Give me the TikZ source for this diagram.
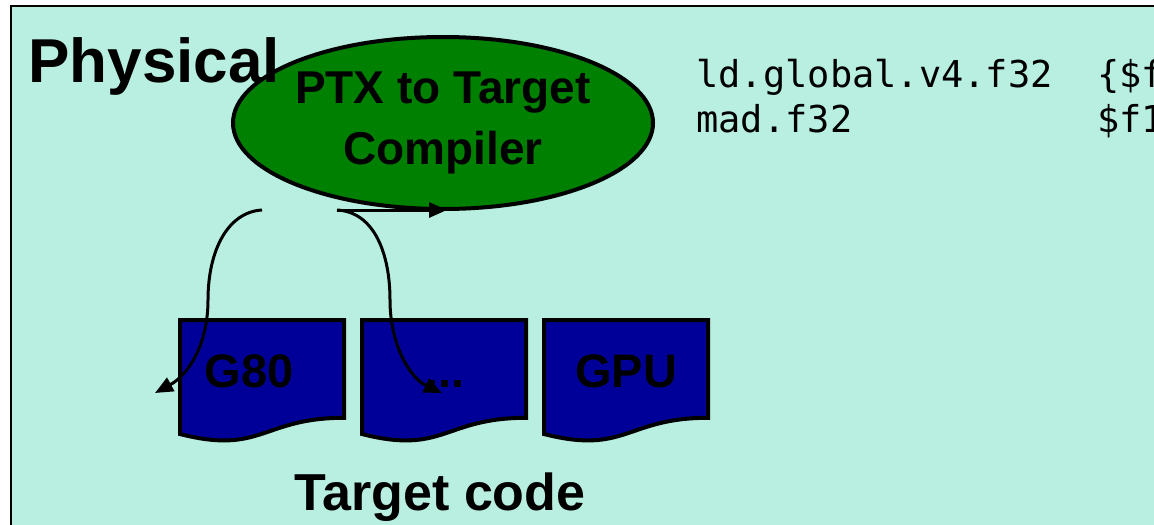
\documentclass[tikz,border=0pt]{standalone}
\usepackage{fontspec}
\setmainfont{Liberation Sans}
\setmonofont{DejaVu Sans Mono}
\usepackage{tikz}
\usetikzlibrary {
  shapes.geometric,
  positioning,
  calc,
  arrows.meta,
}
\definecolor{mint}{RGB}{184,239,224}
\definecolor{compgreen}{RGB}{0,128,0}
\definecolor{docblue}{RGB}{0,0,153}
\tikzset{
  slide/.style = {
    draw = black,
    line width = 1pt,
    fill = mint
  },
  compiler/.style = {
    ellipse,
    draw = black,
    line width = 2pt,
    fill = compgreen,
    minimum width = 210pt,
    minimum height = 86pt,
    inner sep = 0pt,
    align = center,
    font = \bfseries\fontsize{23}{30.5}\selectfont
  },
  heading/.style = {
    inner sep = 0pt,
    font = \bfseries\fontsize{31}{31}\selectfont
  },
  asm/.style = {
    inner sep = 0pt,
    align = left,
    font = \ttfamily\fontsize{18.5}{22.5}\selectfont
  },
  doc/.style = {
    rectangle,
    minimum width = 82pt,
    minimum height = 61pt,
    inner sep = 0pt,
    outer sep = 0pt
  },
  docline/.style = {
    draw = black,
    line width = 2pt,
    fill = docblue
  },
  doclabel/.style = {
    inner sep = 0pt,
    anchor = base,
    font = \bfseries\fontsize{23.5}{23.5}\selectfont
  },
  line/.style = {
    -{Triangle[length = 9pt, width = 7.5pt]},
    line width = 1.5pt
  },
}
% page with a wavy bottom edge
\newcommand{\wavedoc}[1]{%
  \filldraw[docline] (#1.north west) -- (#1.north east) -- ++(0,-48.9pt)
    .. controls ($(#1.north west)+(41pt,-48.9pt)$)
    and ($(#1.north west)+(41pt,-67.5pt)$) .. ($(#1.north west)+(0,-57pt)$)
    -- cycle;}

\begin{document}
\begin{tikzpicture}[x = 0.5pt, y = -0.5pt]
  \useasboundingbox (0,0) rectangle (1154,524);
  \clip (0,0) rectangle (1154,524);
  \draw[slide] (11,6) rectangle (1170,540);

  \node[compiler] (C) at (443,123) {PTX to Target\\Compiler};
  \node[heading, anchor = base west] (P) at (28,83) {Physical};
  % base of a two-line node is the last line
  \node[asm, anchor = base west] (L) at (696,133)
    {ld.global.v4.f32\ \ \{\$f\\
     mad.f32\ \ \ \ \ \ \ \ \ \ \ \$f1};

  \node[doc] (D1) at (262,381) {};
  \node[doc, right = 9pt of D1] (D2) {};
  \node[doc, right = 9pt of D2] (D3) {};
  \wavedoc{D1}
  \wavedoc{D2}
  \wavedoc{D3}
  \node[doclabel] (G) at ($(D1.center)+(-6.5pt,-3pt)$) {G80};
  \node[doclabel] (M) at ($(D2.center)+(0.7pt,-3pt)$) {...};
  \node[doclabel] (U) at ($(D3.center)+(0pt,-3pt)$) {GPU};
  \node[heading, anchor = base, font = \bfseries\fontsize{26}{26}\selectfont]
    (T) at (440,510) {Target code};

  \coordinate (s1) at (262,210);
  \coordinate (s2) at (337,210);
  \coordinate (e0) at (447,210);
  \coordinate (e1) at (155,393);
  \coordinate (e2) at (442,393);
  \draw[line] (s2) -- (e0);
  \draw[line] (s1) .. controls (228,212) and (208,250) .. (208,300)
    .. controls (208,345) and (188,375) .. (e1);
  \draw[line] (s2) .. controls (375,212) and (390,255) .. (390,300)
    .. controls (390,345) and (410,378) .. (e2);
\end{tikzpicture}
\end{document}
